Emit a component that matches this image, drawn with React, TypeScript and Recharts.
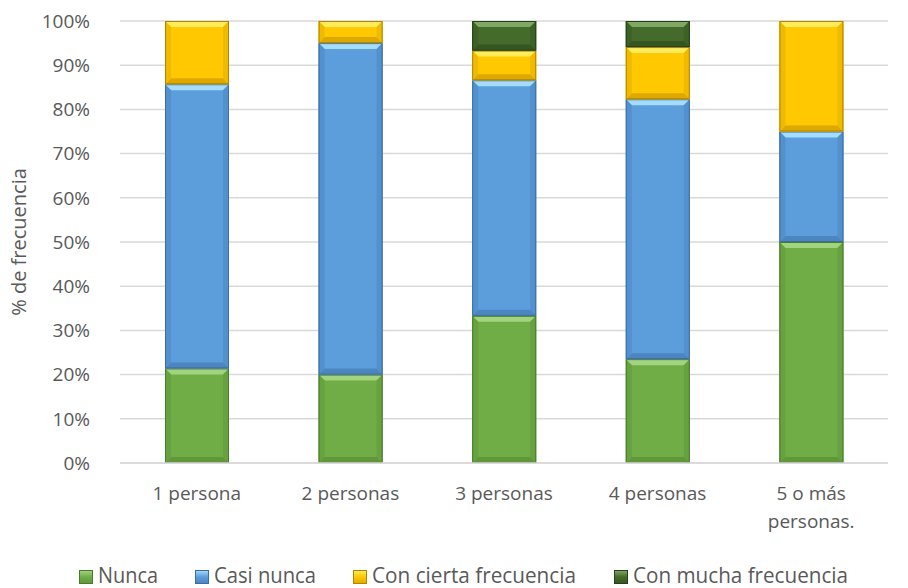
import { BarChart, Bar, XAxis, YAxis, CartesianGrid, Label } from 'recharts'

const categories = ['1 persona', '2 personas', '3 personas', '4 personas', '5 o más personas.']
const nunca = [21.4, 20, 33.3, 23.5, 50]
const casiNunca = [64.3, 75, 53.3, 58.8, 25]
const conCierta = [14.3, 5, 6.7, 11.8, 25]
const conMucha = [0, 0, 6.7, 5.9, 0]
const yTicks = [0, 10, 20, 30, 40, 50, 60, 70, 80, 90, 100]

const data = categories.map((name, i) => ({
  name,
  nunca: nunca[i],
  casiNunca: casiNunca[i],
  conCierta: conCierta[i],
  conMucha: conMucha[i],
}))

const FONT = "'Open Sans', Lato, sans-serif"
const TEXT = '#595959'

const PALETTE = {
  nunca: { base: '#70AD47', top: '#A2D47F', bottom: '#5F973A', side: '#66A23F', edge: '#4B7A2E' },
  casiNunca: { base: '#5C9DDC', top: '#A3DCFC', bottom: '#4C86C0', side: '#5290CE', edge: '#3E6E9E' },
  conCierta: { base: '#FFC800', top: '#FFEC5A', bottom: '#DDA800', side: '#F0BA00', edge: '#B08600' },
  conMucha: { base: '#446B2B', top: '#7FA862', bottom: '#355620', side: '#3D6126', edge: '#26401A' },
}

type Pal = typeof PALETTE.nunca

function bevelShape(pal: Pal) {
  return (props: any) => {
    const { x, y, width, height } = props
    if (!height || height <= 0) return <g />
    const b = Math.min(6, height / 2, width / 2)
    const r = x + width
    const btm = y + height
    return (
      <g>
        <rect x={x} y={y} width={width} height={height} fill={pal.base} />
        <polygon points={`${x},${y} ${r},${y} ${r - b},${y + b} ${x + b},${y + b}`} fill={pal.top} />
        <polygon points={`${x},${btm} ${r},${btm} ${r - b},${btm - b} ${x + b},${btm - b}`} fill={pal.bottom} />
        <polygon points={`${x},${y} ${x + b},${y + b} ${x + b},${btm - b} ${x},${btm}`} fill={pal.side} />
        <polygon points={`${r},${y} ${r - b},${y + b} ${r - b},${btm - b} ${r},${btm}`} fill={pal.side} />
        <rect x={x + 0.5} y={y + 0.5} width={width - 1} height={height - 1} fill="none" stroke={pal.edge} strokeWidth={1} />
      </g>
    )
  }
}

const XTick = (props: any) => {
  const { x, y, payload } = props
  const lines = payload.value === '5 o más personas.' ? ['5 o más', 'personas.'] : [payload.value]
  return (
    <text x={x} y={y} textAnchor="middle" fill={TEXT} fontSize={19} fontFamily={FONT}>
      {lines.map((l, i) => (
        <tspan key={i} x={x} dy={i === 0 ? 29 : 28}>
          {l}
        </tspan>
      ))}
    </text>
  )
}

const legendItems = [
  { label: 'Nunca', pal: PALETTE.nunca, x: 79, w: 60 },
  { label: 'Casi nunca', pal: PALETTE.casiNunca, x: 195, w: 102 },
  { label: 'Con cierta frecuencia', pal: PALETTE.conCierta, x: 353, w: 204 },
  { label: 'Con mucha frecuencia', pal: PALETTE.conMucha, x: 614, w: 215 },
]

export default function App() {
  return (
    <div style={{ position: 'absolute', left: 0, top: 0, width: 908, height: 588, background: '#fff' }}>
      <BarChart
        width={908}
        height={588}
        data={data}
        margin={{ top: 21, right: 20, bottom: 65, left: 0 }}
        barSize={64}
      >
        <CartesianGrid vertical={false} stroke="#d9d9d9" strokeWidth={1.5} />
        <XAxis
          dataKey="name"
          axisLine={{ stroke: '#d9d9d9', strokeWidth: 1.5 }}
          tickLine={false}
          height={60}
          interval={0}
          tick={<XTick />}
        />
        <YAxis
          width={120}
          domain={[0, 100]}
          ticks={yTicks}
          tickFormatter={(v) => `${v}%`}
          axisLine={false}
          tickLine={false}
          tickMargin={24}
          tick={{ fill: TEXT, fontSize: 19, fontFamily: FONT }}
        >
          <Label
            value="% de frecuencia"
            angle={-90}
            position="insideLeft"
            offset={19}
            style={{ textAnchor: 'middle', fill: TEXT, fontSize: 20, fontFamily: FONT }}
          />
        </YAxis>
        <Bar dataKey="nunca" stackId="a" isAnimationActive={false} shape={bevelShape(PALETTE.nunca)} />
        <Bar dataKey="casiNunca" stackId="a" isAnimationActive={false} shape={bevelShape(PALETTE.casiNunca)} />
        <Bar dataKey="conCierta" stackId="a" isAnimationActive={false} shape={bevelShape(PALETTE.conCierta)} />
        <Bar dataKey="conMucha" stackId="a" isAnimationActive={false} shape={bevelShape(PALETTE.conMucha)} />
      </BarChart>
      <svg width={908} height={32} style={{ position: 'absolute', left: 0, top: 556 }}>
        <defs>
          {legendItems.map((it, i) => (
            <linearGradient key={i} id={`lgl${i}`} x1="0" y1="0" x2="0" y2="1">
              <stop offset="0" stopColor={it.pal.top} />
              <stop offset="0.5" stopColor={it.pal.base} />
              <stop offset="1" stopColor={it.pal.bottom} />
            </linearGradient>
          ))}
        </defs>
        {legendItems.map((it, i) => (
          <g key={it.label}>
            <rect x={it.x + 0.5} y={14.5} width={13} height={13} fill={`url(#lgl${i})`} stroke={it.pal.edge} />
            <text
              x={it.x + 19}
              y={26.5}
              fontSize={21}
              fontFamily={FONT}
              fill={TEXT}
              textLength={it.w}
              lengthAdjust="spacingAndGlyphs"
            >
              {it.label}
            </text>
          </g>
        ))}
      </svg>
    </div>
  )
}
